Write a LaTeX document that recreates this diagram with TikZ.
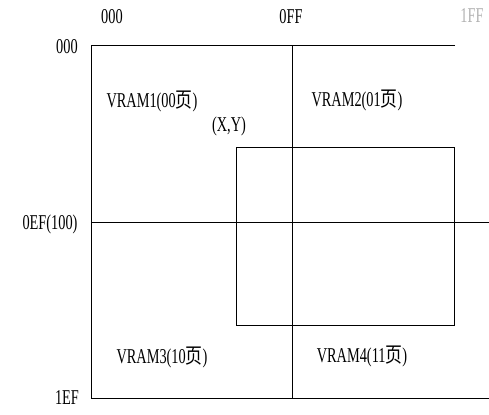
\documentclass[tikz,border=0pt]{standalone}
\usepackage{fontspec}
\setmainfont{Liberation Serif}[FakeStretch=0.68]
\newfontfamily\cjk{Noto Sans CJK SC}[FakeStretch=0.8]
\usepackage{tikz}

\tikzset{
  lbl/.style={inner sep=0pt, font=\fontsize{18}{18}\selectfont},
  frame/.style={line width=0.6pt}
}

\begin{document}
\begin{tikzpicture}[x=0.03cm, y=-0.03cm]
            \useasboundingbox (0,0) rectangle (489,414);

            % Screen corners
            \coordinate (tl) at (91,45);
            \coordinate (tr) at (455,45);
            \coordinate (bl) at (91,398);
            \coordinate (br) at (489,398);
            \coordinate (mt) at (292,45);
            \coordinate (mb) at (292,398);
            \coordinate (ml) at (91,222);
            \coordinate (mr) at (489,222);

            % Pages
            \draw[frame] (tr) -- (tl) -- (bl) -- (br);
            \draw[frame] (mt) -- (mb);
            \draw[frame] (ml) -- (mr);

            % Window
            \draw[frame] (236,147) rectangle (454,325);

            % Column addresses
            \node[lbl] (c0) at (112,17) {000};
            \node[lbl] (c1) at (291,17) {0FF};
            \node[lbl, gray!60] (c2) at (472,16) {1FF};

            % Row addresses
            \node[lbl] (r0) at (67,47) {000};
            \node[lbl] (r1) at (50,224) {0EF(100)};
            \node[lbl] (r2) at (67,398) {1EF};

            % Page names
            \node[lbl] (v1) at (152,101) {VRAM1(00{\cjk 页})};
            \node[lbl] (xy) at (229,126) {(X,Y)};
            \node[lbl] (v2) at (357,100) {VRAM2(01{\cjk 页})};
            \node[lbl] (v3) at (162,357) {VRAM3(10{\cjk 页})};
            \node[lbl] (v4) at (362,356) {VRAM4(11{\cjk 页})};
        \end{tikzpicture}
\end{document}
